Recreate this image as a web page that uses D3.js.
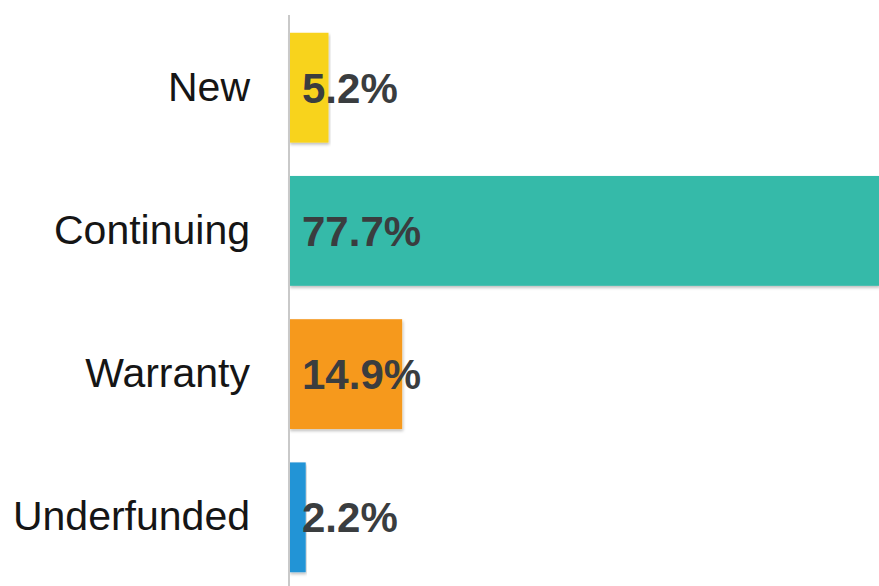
<!DOCTYPE html>
<html>
<head>
<meta charset="utf-8">
<script src="https://cdn.jsdelivr.net/npm/d3@7"></script>
<style>
  html, body { margin: 0; padding: 0; background: #ffffff; }
  svg { display: block; }
</style>
</head>
<body>
<svg id="chart" width="879" height="586"></svg>
<script>
const categories = ["New", "Continuing", "Warranty", "Underfunded"];
const values = [5.2, 77.7, 14.9, 2.2];
const valueLabels = ["5.2%", "77.7%", "14.9%", "2.2%"];
const colors = ["#F8D31A", "#35BAA9", "#F6991F", "#2394D6"];

const W = 879, H = 586;
const axisX = 289;
const svg = d3.select("#chart");

const defs = svg.append("defs");
const f = defs.append("filter").attr("id", "shadow")
  .attr("x", "-5%").attr("y", "-5%").attr("width", "110%").attr("height", "115%");
f.append("feDropShadow").attr("dx", 1).attr("dy", 2).attr("stdDeviation", 1.5)
  .attr("flood-color", "#000").attr("flood-opacity", 0.25);

const y = d3.scaleBand().domain(categories).range([16, 589])
  .paddingInner(0.233).paddingOuter(0.117);
const x = d3.scaleLinear().domain([0, 77.7]).range([axisX, W]);

const data = categories.map((c, i) => ({ c, v: values[i], label: valueLabels[i], color: colors[i] }));

svg.append("g").selectAll("rect").data(data).join("rect")
  .attr("x", x(0))
  .attr("y", d => y(d.c))
  .attr("width", d => x(d.v) - x(0))
  .attr("height", y.bandwidth())
  .attr("fill", d => d.color)
  .attr("filter", "url(#shadow)");

// axis line
svg.append("line")
  .attr("x1", axisX).attr("x2", axisX)
  .attr("y1", 15).attr("y2", H)
  .attr("stroke", "#c9c9c9").attr("stroke-width", 2);

// category labels
const yAxis = d3.axisLeft(y).tickSize(0).tickPadding(39);
const ga = svg.append("g").attr("transform", `translate(${axisX},0)`).call(yAxis);
ga.select(".domain").remove();
ga.selectAll("text")
  .attr("font-family", "Liberation Sans, Arial, sans-serif")
  .attr("font-size", 41)
  .attr("fill", "#151515");

// value labels
svg.append("g").selectAll("text").data(data).join("text")
  .attr("x", x(0) + 13)
  .attr("y", d => y(d.c) + y.bandwidth() / 2)
  .attr("dy", "0.36em")
  .attr("font-family", "Liberation Sans, Arial, sans-serif")
  .attr("font-weight", "bold")
  .attr("font-size", 42)
  .attr("fill", "#3a3d3f")
  .text(d => d.label);
</script>
</body>
</html>
